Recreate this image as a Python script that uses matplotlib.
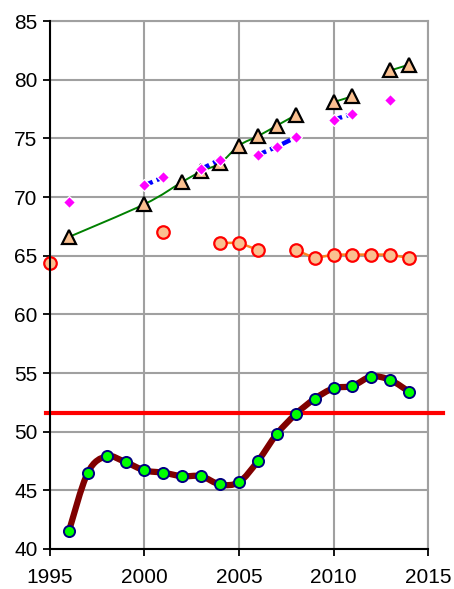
import numpy as np
import matplotlib
matplotlib.use("Agg")
import matplotlib.pyplot as plt
from matplotlib.path import Path
from matplotlib.patches import PathPatch

plt.rcParams['font.family'] = ['Liberation Sans', 'DejaVu Sans']

# Data
years_main = [1996, 1997, 1998, 1999, 2000, 2001, 2002, 2003, 2004, 2005,
              2006, 2007, 2008, 2009, 2010, 2011, 2012, 2013, 2014]
main_vals = [41.5, 46.5, 47.9, 47.4, 46.7, 46.5, 46.2, 46.2, 45.5, 45.7,
             47.5, 49.8, 51.5, 52.8, 53.7, 53.9, 54.7, 54.4, 53.4]

tri_segments = [
    ([1996, 2000, 2002, 2003, 2004, 2005, 2006, 2007, 2008],
     [66.6, 69.4, 71.3, 72.2, 72.9, 74.4, 75.2, 76.1, 77.0]),
    ([2010, 2011], [78.1, 78.6]),
    ([2013, 2014], [80.8, 81.3]),
]

dia_segments = [
    ([1996], [69.6]),
    ([2000, 2001], [71.0, 71.7]),
    ([2003, 2004], [72.4, 73.2]),
    ([2006, 2007, 2008], [73.6, 74.3, 75.1]),
    ([2010, 2011], [76.6, 77.1]),
    ([2013], [78.3]),
]

circ_segments = [
    ([1995], [64.4]),
    ([2001], [67.0]),
    ([2004, 2005, 2006], [66.1, 66.1, 65.5]),
    ([2008, 2009, 2010, 2011, 2012, 2013, 2014],
     [65.5, 64.8, 65.1, 65.1, 65.1, 65.1, 64.8]),
]

ref_level = 51.6
x_ticks = [1995, 2000, 2005, 2010, 2015]
y_ticks = [40, 45, 50, 55, 60, 65, 70, 75, 80, 85]


def smooth_path(xs, ys):
    xs = np.asarray(xs, float)
    ys = np.asarray(ys, float)
    verts = [(xs[0], ys[0])]
    codes = [Path.MOVETO]
    n = len(xs)
    for i in range(n - 1):
        p0 = np.array([xs[max(i - 1, 0)], ys[max(i - 1, 0)]])
        p1 = np.array([xs[i], ys[i]])
        p2 = np.array([xs[i + 1], ys[i + 1]])
        p3 = np.array([xs[min(i + 2, n - 1)], ys[min(i + 2, n - 1)]])
        c1 = p1 + (p2 - p0) / 6.0
        c2 = p2 - (p3 - p1) / 6.0
        verts += [tuple(c1), tuple(c2), tuple(p2)]
        codes += [Path.CURVE4] * 3
    return Path(verts, codes)


fig = plt.figure(figsize=(4.54, 5.89), dpi=100)
ax = fig.add_axes([0.110, 0.068, 0.833, 0.896])
ax.set_xlim(1995, 2015)
ax.set_ylim(40, 85)

ax.grid(True, color='#a0a0a0', linewidth=1.5, zorder=0)
ax.set_axisbelow(True)
for s in ['top', 'right']:
    ax.spines[s].set_color('#a0a0a0')
    ax.spines[s].set_linewidth(1.5)
for s in ['left', 'bottom']:
    ax.spines[s].set_color('black')
    ax.spines[s].set_linewidth(1.5)
    ax.spines[s].set_zorder(5)

ax.set_xticks(x_ticks)
ax.set_yticks(y_ticks)
ax.tick_params(axis='both', direction='out', length=5, width=1.3,
               labelsize=15, colors='black')
ax.tick_params(axis='x', pad=9)
ax.tick_params(axis='y', pad=4)

# Main smoothed series
ax.add_patch(PathPatch(smooth_path(years_main, main_vals), facecolor='none',
                       edgecolor='#800000', linewidth=4.5, zorder=3,
                       capstyle='round', joinstyle='round'))
ax.plot(years_main, main_vals, linestyle='none', marker='o', markersize=8,
        markerfacecolor='#00ff00', markeredgecolor='#000080',
        markeredgewidth=1.4, zorder=4)

# Reference line
ax.plot([1994.8, 2015.8], [ref_level, ref_level], color='#ff0000',
        linewidth=3, clip_on=False, zorder=3)

# Triangles series
for xs, ys in tri_segments:
    if len(xs) > 1:
        ax.add_patch(PathPatch(smooth_path(xs, ys), facecolor='none',
                               edgecolor='#008000', linewidth=1.4, zorder=3))
    ax.plot(xs, ys, linestyle='none', marker='^', markersize=10.5,
            markerfacecolor='#fac090', markeredgecolor='black',
            markeredgewidth=1.6, zorder=4)

# Diamonds series
for xs, ys in dia_segments:
    if len(xs) > 1:
        ax.plot(xs, ys, color='#0000ff', linewidth=3.2,
                linestyle=(0, (2.0, 1.0)), zorder=5)
    ax.plot(xs, ys, linestyle='none', marker='D', markersize=6.5,
            markerfacecolor='#ff00ff', markeredgecolor='white',
            markeredgewidth=0.9, zorder=6)

# Circles series
for xs, ys in circ_segments:
    if len(xs) > 1:
        ax.plot(xs, ys, color='#ff8020', linewidth=1.8, zorder=3)
    ax.plot(xs, ys, linestyle='none', marker='o', markersize=9,
            markerfacecolor='#fac090', markeredgecolor='#ff0000',
            markeredgewidth=1.6, zorder=4, clip_on=False)

fig.savefig('out.png', dpi=100)
